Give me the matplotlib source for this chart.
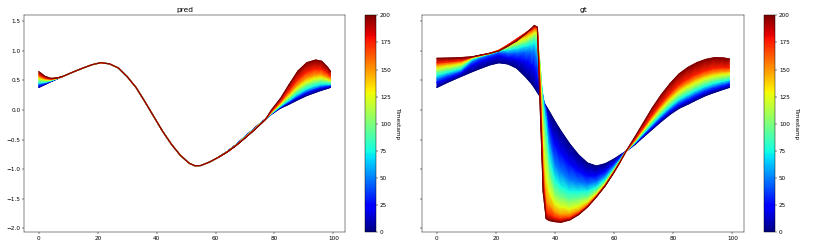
import numpy as np
import matplotlib
matplotlib.use("Agg")
import matplotlib.pyplot as plt
import matplotlib.tri as mtri
from matplotlib.colors import Normalize
from matplotlib.cm import ScalarMappable

# ---------------- data ----------------
timestamps = [0, 25, 50, 75, 100, 125, 150, 175, 200]
cbar_ticks = [0, 25, 50, 75, 100, 125, 150, 175, 200]
x_ticks = [0, 20, 40, 60, 80, 100]
y_ticks = [-2.0, -1.5, -1.0, -0.5, 0.0, 0.5, 1.0, 1.5]

# ---- pred panel ----
pred_x = [0, 2, 4, 6, 8,
          12, 15, 18, 21, 24, 27, 30, 33, 36, 39, 42, 45, 48, 51, 53, 55, 58, 61,
          64, 67, 70, 73, 76, 77,
          79, 82, 85, 88, 91, 94, 96, 98, 99]
# middle part where every predicted curve coincides (x = 12 ... 61)
pred_mid = [0.65, 0.71, 0.765, 0.80, 0.78, 0.71, 0.563, 0.38, 0.14, -0.11, -0.36,
            -0.58, -0.765, -0.90, -0.945, -0.94, -0.88, -0.80]
# left edge (x = 0 ... 8)
pred_left_t000 = [0.383, 0.43, 0.478, 0.522, 0.565]
pred_left_t025 = [0.41, 0.445, 0.484, 0.524, 0.565]
pred_left_t050 = [0.44, 0.46, 0.49, 0.526, 0.565]
pred_left_t075 = [0.46, 0.47, 0.495, 0.528, 0.565]
pred_left_t100 = [0.50, 0.493, 0.503, 0.53, 0.565]
pred_left_t125 = [0.535, 0.511, 0.51, 0.533, 0.565]
pred_left_t150 = [0.565, 0.527, 0.517, 0.535, 0.565]
pred_left_t175 = [0.60, 0.545, 0.524, 0.537, 0.565]
pred_left_t200 = [0.647, 0.57, 0.535, 0.54, 0.565]
# x = 64 ... 77
pred_dip_t000 = [-0.70, -0.585, -0.45, -0.32, -0.19, -0.155]
pred_dip_t025 = [-0.701, -0.587, -0.453, -0.323, -0.192, -0.155]
pred_dip_t050 = [-0.702, -0.589, -0.456, -0.326, -0.194, -0.155]
pred_dip_t075 = [-0.703, -0.591, -0.459, -0.329, -0.196, -0.155]
pred_dip_t100 = [-0.705, -0.593, -0.462, -0.332, -0.198, -0.155]
pred_dip_t125 = [-0.706, -0.595, -0.466, -0.336, -0.200, -0.155]
pred_dip_t150 = [-0.707, -0.596, -0.469, -0.339, -0.202, -0.155]
pred_dip_t175 = [-0.709, -0.598, -0.472, -0.342, -0.204, -0.155]
pred_dip_t200 = [-0.710, -0.600, -0.475, -0.345, -0.205, -0.155]
# right edge (x = 79 ... 99)
pred_right_t000 = [-0.07, 0.03, 0.10, 0.175, 0.245, 0.30, 0.335, 0.365, 0.383]
pred_right_t025 = [-0.064, 0.044, 0.13, 0.219, 0.295, 0.35, 0.379, 0.397, 0.407]
pred_right_t050 = [-0.06, 0.054, 0.15, 0.248, 0.328, 0.38, 0.409, 0.419, 0.424]
pred_right_t075 = [-0.055, 0.065, 0.173, 0.282, 0.367, 0.42, 0.443, 0.444, 0.443]
pred_right_t100 = [-0.047, 0.083, 0.209, 0.335, 0.428, 0.48, 0.497, 0.484, 0.473]
pred_right_t125 = [-0.04, 0.099, 0.242, 0.384, 0.484, 0.535, 0.546, 0.52, 0.50]
pred_right_t150 = [-0.032, 0.118, 0.282, 0.442, 0.55, 0.60, 0.605, 0.563, 0.533]
pred_right_t175 = [-0.019, 0.147, 0.341, 0.529, 0.65, 0.70, 0.693, 0.628, 0.582]
pred_right_t200 = [0.0, 0.19, 0.43, 0.66, 0.80, 0.845, 0.825, 0.725, 0.655]

pred_left = [pred_left_t000, pred_left_t025, pred_left_t050, pred_left_t075, pred_left_t100,
             pred_left_t125, pred_left_t150, pred_left_t175, pred_left_t200]
pred_dip = [pred_dip_t000, pred_dip_t025, pred_dip_t050, pred_dip_t075, pred_dip_t100,
            pred_dip_t125, pred_dip_t150, pred_dip_t175, pred_dip_t200]
pred_right = [pred_right_t000, pred_right_t025, pred_right_t050, pred_right_t075, pred_right_t100,
              pred_right_t125, pred_right_t150, pred_right_t175, pred_right_t200]
pred_rows = [l + pred_mid + d + r for l, d, r in zip(pred_left, pred_dip, pred_right)]

# ---- gt panel ----
gt_x = [0, 4, 8, 12, 15, 18, 21, 24, 27, 30, 32, 33, 34, 35, 36, 37, 38, 40, 42, 45,
        48, 51, 54, 57, 60, 62, 64, 67, 70, 73, 76, 79, 82, 85, 88, 91, 94, 97, 99]
gt_t000 = [0.383, 0.478, 0.565, 0.65, 0.71, 0.765, 0.80, 0.78, 0.71, 0.563, 0.45, 0.38, 0.30, 0.224,
           0.14, 0.06, -0.025, -0.20, -0.36, -0.58, -0.765, -0.90, -0.95, -0.91, -0.83, -0.765,
           -0.70, -0.585, -0.45, -0.32, -0.19, -0.07, 0.03, 0.10, 0.175, 0.245, 0.30, 0.35, 0.383]
gt_t025 = [0.47, 0.55, 0.623, 0.77, 0.84, 0.89, 0.93, 0.89, 0.87, 0.83, 0.77, 0.72, 0.55, 0.35,
           0.17, 0.02, -0.27, -0.60, -0.75, -0.92, -1.04, -1.12, -1.12, -1.04, -0.90, -0.80,
           -0.70, -0.572, -0.426, -0.284, -0.145, -0.018, 0.088, 0.162, 0.238, 0.306, 0.359, 0.403, 0.431]
gt_t050 = [0.535, 0.602, 0.664, 0.83, 0.895, 0.94, 0.985, 0.97, 0.98, 1.0, 1.0, 1.0, 0.85, 0.50,
           0.20, -0.10, -0.55, -0.95, -1.07, -1.20, -1.24, -1.27, -1.23, -1.12, -0.95, -0.83,
           -0.70, -0.561, -0.404, -0.252, -0.105, 0.029, 0.14, 0.218, 0.294, 0.361, 0.411, 0.451, 0.474]
gt_t075 = [0.59, 0.646, 0.699, 0.86, 0.91, 0.952, 0.998, 1.02, 1.05, 1.09, 1.12, 1.15, 1.05, 0.65,
           0.10, -0.35, -0.85, -1.20, -1.31, -1.39, -1.39, -1.38, -1.31, -1.18, -0.99, -0.85,
           -0.70, -0.551, -0.385, -0.223, -0.069, 0.07, 0.187, 0.267, 0.344, 0.41, 0.458, 0.493, 0.512]
gt_t100 = [0.65, 0.694, 0.738, 0.875, 0.918, 0.957, 1.005, 1.05, 1.10, 1.15, 1.21, 1.25, 1.20, 0.72,
           -0.15, -0.70, -1.12, -1.42, -1.49, -1.55, -1.52, -1.48, -1.37, -1.22, -1.01, -0.865,
           -0.70, -0.539, -0.361, -0.187, -0.024, 0.122, 0.245, 0.329, 0.406, 0.471, 0.516, 0.546, 0.56]
gt_t125 = [0.705, 0.742, 0.776, 0.885, 0.923, 0.959, 1.008, 1.08, 1.15, 1.21, 1.27, 1.31, 1.30, 0.60,
           -0.60, -1.20, -1.40, -1.60, -1.65, -1.68, -1.63, -1.55, -1.42, -1.25, -1.03, -0.872,
           -0.70, -0.525, -0.335, -0.147, 0.026, 0.18, 0.308, 0.398, 0.475, 0.538, 0.581, 0.604, 0.613]
gt_t150 = [0.76, 0.786, 0.811, 0.892, 0.926, 0.96, 1.01, 1.10, 1.19, 1.26, 1.32, 1.36, 1.36, 0.40,
           -1.00, -1.55, -1.62, -1.74, -1.78, -1.77, -1.71, -1.60, -1.45, -1.265, -1.04, -0.877,
           -0.70, -0.512, -0.311, -0.111, 0.071, 0.232, 0.366, 0.46, 0.538, 0.599, 0.639, 0.657, 0.661]
gt_t175 = [0.80, 0.818, 0.837, 0.897, 0.928, 0.96, 1.008, 1.10, 1.20, 1.30, 1.36, 1.40, 1.40, 0.20,
           -1.25, -1.75, -1.78, -1.83, -1.85, -1.83, -1.75, -1.63, -1.465, -1.275, -1.045, -0.88,
           -0.70, -0.497, -0.282, -0.068, 0.125, 0.294, 0.436, 0.534, 0.613, 0.672, 0.71, 0.721, 0.718]
gt_t200 = [0.874, 0.878, 0.885, 0.90, 0.93, 0.96, 1.0, 1.08, 1.17, 1.29, 1.38, 1.43, 1.40, 0.0,
           -1.40, -1.84, -1.87, -1.89, -1.90, -1.86, -1.77, -1.64, -1.47, -1.28, -1.05, -0.88,
           -0.70, -0.46, -0.21, 0.04, 0.26, 0.45, 0.61, 0.72, 0.80, 0.855, 0.885, 0.88, 0.862]
gt_rows = [gt_t000, gt_t025, gt_t050, gt_t075, gt_t100,
           gt_t125, gt_t150, gt_t175, gt_t200]

# ---------------- drawing ----------------
cmap = plt.get_cmap("jet")
norm = Normalize(vmin=0, vmax=200)
LW = 2.0


def draw_fan(ax, xs, rows):
    xs = np.asarray(xs, dtype=float)
    n = len(xs)
    ax.plot(xs, rows[0], color=cmap(norm(timestamps[0])), lw=LW, zorder=2)
    for k in range(len(rows) - 1):
        X = np.concatenate([xs, xs])
        Y = np.concatenate([np.asarray(rows[k], float), np.asarray(rows[k + 1], float)])
        C = np.concatenate([np.full(n, timestamps[k], float),
                            np.full(n, timestamps[k + 1], float)])
        tris = []
        for j in range(n - 1):
            tris.append([j, j + 1, n + j + 1])
            tris.append([j, n + j + 1, n + j])
        tri = mtri.Triangulation(X, Y, np.array(tris))
        ax.tripcolor(tri, C, shading="gouraud", cmap=cmap, norm=norm,
                     zorder=3 + 2 * k)
        ax.plot(xs, rows[k + 1], color=cmap(norm(timestamps[k + 1])),
                lw=LW, zorder=4 + 2 * k)


W, H = 830.0, 249.0
fig = plt.figure(figsize=(20, 6), dpi=41.5)


def box(l, r, t, b):
    return [l / W, 1 - b / H, (r - l) / W, (b - t) / H]


ax1 = fig.add_axes(box(24.3, 345.0, 15.0, 232.0))
cax1 = fig.add_axes(box(365.0, 376.0, 15.3, 232.3))
ax2 = fig.add_axes(box(422.3, 744.0, 15.0, 232.0))
cax2 = fig.add_axes(box(763.5, 775.0, 15.3, 232.3))

for ax, xs, rows, title in [(ax1, pred_x, pred_rows, "pred"),
                            (ax2, gt_x, gt_rows, "gt")]:
    draw_fan(ax, xs, rows)
    ax.set_title(title, fontsize=13)
    ax.set_xlim(-4.95, 103.95)
    ax.set_ylim(-2.065, 1.607)
    ax.set_xticks(x_ticks)
    ax.set_yticks(y_ticks)

ax2.tick_params(labelleft=False)

for cax in (cax1, cax2):
    sm = ScalarMappable(norm=norm, cmap=cmap)
    sm.set_array([])
    cb = fig.colorbar(sm, cax=cax, ticks=cbar_ticks)
    cb.set_label("Timestamp", rotation=270, labelpad=15)

fig.savefig("out.png", dpi=41.5)
